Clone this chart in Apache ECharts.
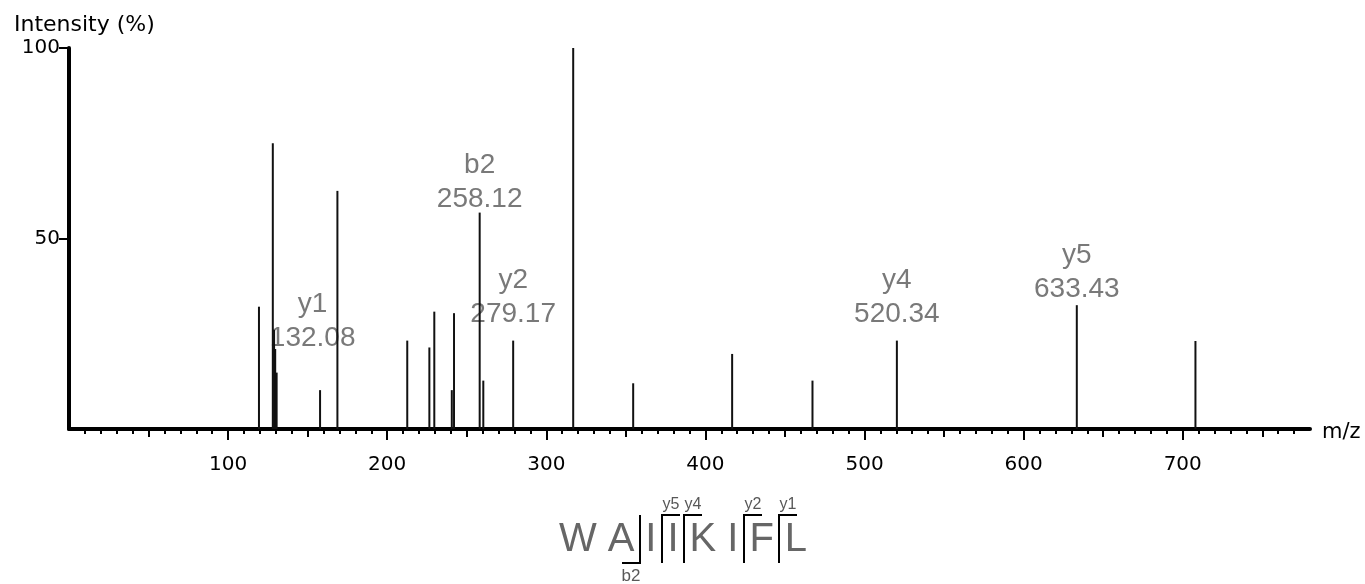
<!DOCTYPE html>
<html><head><meta charset="utf-8">
<script src="https://cdn.jsdelivr.net/npm/echarts@6/dist/echarts.min.js"></script>
<style>html,body{margin:0;padding:0;background:#fff}#c{width:1365px;height:584px}</style>
</head><body><div id="c"></div>
<script>
// ---- data ----
const peakMz = [119.4,128.1,128.9,129.6,130.5,157.8,168.7,212.6,226.5,229.6,240.6,242.0,258.12,260.4,279.17,316.9,354.6,416.8,467.3,520.34,633.43,708.0];
const peakIntensity = [32.1,75.0,26.0,21.0,14.8,10.2,62.5,23.2,21.4,30.8,10.2,30.4,56.8,12.7,23.2,100,12.0,19.7,12.7,23.2,32.5,23.1];
const ionNames = ['y1','b2','y2','y4','y5'];
const ionMz = [132.08,258.12,279.17,520.34,633.43];
const xTickLabels = [100,200,300,400,500,600,700];
const yTickLabels = [50,100];
const sequence = ['W','A','I','I','K','I','F','L'];
const seqIonNames = ['b2','y5','y4','y2','y1'];

// ---- layout (code-level) ----
const X_MAX = 780;
const labelLayout = { y1:{dx:36,gap:25}, b2:{dx:0,gap:4.7}, y2:{dx:0,gap:17.7}, y4:{dx:0,gap:17.7}, y5:{dx:0,gap:7} };
const BASE_K = 8;
const GRAY = '#585858';

const midTicks = [], minorTicks = [];
for (let v = 10; v < X_MAX; v += 10) {
  if (v % 100 === 0) continue;
  if (v % 50 === 0) midTicks.push(v); else minorTicks.push(v);
}

const barData = peakMz.map((m, i) => [m, peakIntensity[i]]);
const annData = ionNames.map((n, j) => {
  let best = 0;
  peakMz.forEach((m, i) => { if (Math.abs(m - ionMz[j]) < Math.abs(peakMz[best] - ionMz[j])) best = i; });
  const L = labelLayout[n];
  return {
    name: n, value: [peakMz[best], peakIntensity[best]],
    label: { distance: L.gap - BASE_K, offset: [L.dx, 0],
      formatter: n + '\n' + ionMz[j].toFixed(2) }
  };
});

const tickFont = { fontFamily: 'DejaVu Sans', fontSize: 20, color: '#000' };
function xAxisBase(extra) {
  return Object.assign({ type:'value', min:0, max:X_MAX, position:'bottom', gridIndex:0,
    splitLine:{show:false}, axisLine:{show:false}, axisLabel:{show:false} }, extra);
}

// ---- sequence graphic ----
const mctx = document.createElement('canvas').getContext('2d');
const SEQ_FONT = 40, SEQ_GAP = 11, SEQ_CENTER = 683;
mctx.font = SEQ_FONT + 'px "Liberation Sans"';
const widths = sequence.map(s => mctx.measureText(s).width);
const total = widths.reduce((a, b) => a + b, 0) + SEQ_GAP * (sequence.length - 1);
const lefts = []; { let x = SEQ_CENTER - total / 2; widths.forEach(w => { lefts.push(x); x += w + SEQ_GAP; }); }
const graphics = [];
sequence.forEach((s, i) => graphics.push({ type:'text', x: lefts[i] + widths[i] / 2, y: 540,
  style:{ text:s, fill:'#666666', font: SEQ_FONT + 'px "Liberation Sans", Arial, sans-serif', align:'center', verticalAlign:'middle' } }));
const TOP = 515, BOT = 563, ARM = 18;
seqIonNames.forEach(n => {
  const t = n[0], k = parseInt(n.slice(1), 10);
  const cut = t === 'b' ? k : sequence.length - k;
  const bx = Math.round(lefts[cut] - SEQ_GAP / 2);
  if (t === 'b') {
    graphics.push({ type:'polyline', shape:{ points:[[bx-ARM,BOT],[bx,BOT],[bx,TOP]] }, style:{ stroke:'#000', lineWidth:2, fill:null } });
    graphics.push({ type:'text', x: bx-ARM/2, y: BOT+5, style:{ text:n, fill:GRAY, font:'17px "Liberation Sans", Arial', align:'center', verticalAlign:'top' } });
  } else {
    graphics.push({ type:'polyline', shape:{ points:[[bx,BOT],[bx,TOP],[bx+ARM,TOP]] }, style:{ stroke:'#000', lineWidth:2, fill:null } });
    graphics.push({ type:'text', x: bx+ARM/2, y: TOP-2, style:{ text:n, fill:GRAY, font:'16px "Liberation Sans", Arial', align:'center', verticalAlign:'bottom' } });
  }
});

const chart = echarts.init(document.getElementById('c'), null, { renderer:'canvas' });
chart.setOption({
  animation:false,
  backgroundColor:'#fff',
  title:{ text:'Intensity (%)', left:9, top:9, textStyle:{ fontFamily:'DejaVu Sans', fontSize:22, fontWeight:'normal', color:'#000' } },
  grid:{ left:69, right:55, top:48, bottom:155, containLabel:false, outerBoundsMode:'none' },
  xAxis:[
    xAxisBase({ interval:100, axisLine:{ show:true, lineStyle:{ color:'#000', width:4 } },
      axisTick:{ customValues:xTickLabels, length:11, lineStyle:{ color:'#000', width:2 } },
      axisLabel:{ show:true, margin:26, showMinLabel:false, showMaxLabel:false,
        formatter: v => (xTickLabels.indexOf(v) >= 0 ? String(v) : ''), ...tickFont },
      name:'m/z', nameLocation:'end', nameGap:12, nameTextStyle:{ fontFamily:'DejaVu Sans', fontSize:21, color:'#000', verticalAlign:'top', lineHeight:8 } }),
    xAxisBase({ axisTick:{ customValues:midTicks, length:8, lineStyle:{ color:'#000', width:2 } } }),
    xAxisBase({ axisTick:{ customValues:minorTicks, length:5, lineStyle:{ color:'#000', width:2 } } })
  ],
  yAxis:{ type:'value', min:0, max:100, splitLine:{show:false},
    axisLine:{ show:true, lineStyle:{ color:'#000', width:4 } },
    axisTick:{ show:true, customValues:yTickLabels, length:10, lineStyle:{ color:'#000', width:2 } },
    axisLabel:{ customValues:yTickLabels, margin:9, ...tickFont } },
  series:[
    { type:'scatter', xAxisIndex:0, data:annData, symbolSize:0, silent:true, z:1,
      label:{ show:true, position:'top', color:GRAY, fontFamily:'Liberation Sans, Arial, sans-serif', fontSize:28, lineHeight:34, align:'center' } },
    { type:'bar', xAxisIndex:0, data:barData, barWidth:2, itemStyle:{ color:'#111' }, silent:true, z:3 }
  ],
  graphic: graphics
});
</script></body></html>
